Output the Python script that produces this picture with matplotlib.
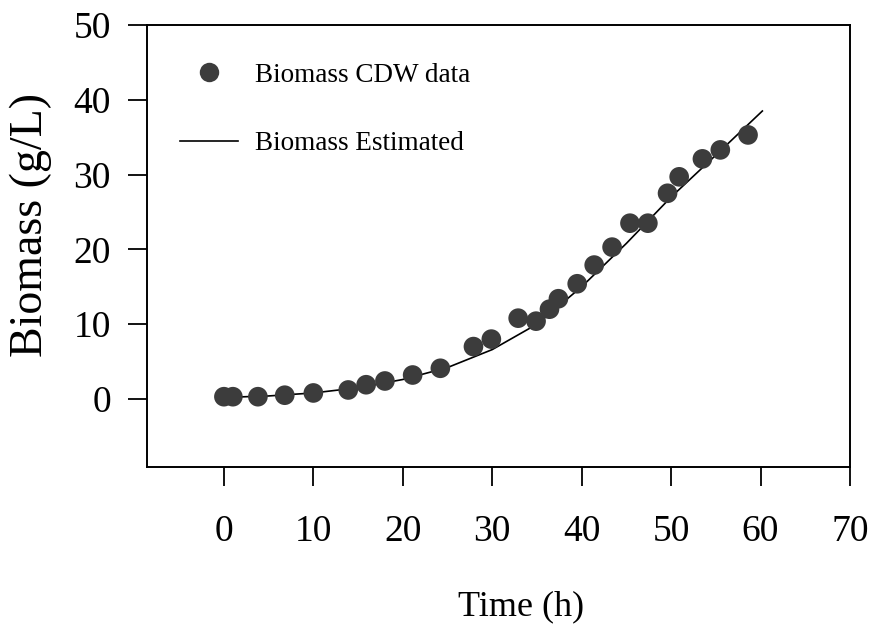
import matplotlib
matplotlib.use("Agg")
import matplotlib.pyplot as plt
from matplotlib.lines import Line2D

# measured biomass (cell dry weight)
time_data = [0.0, 1.0, 3.8, 6.8, 10.0, 13.9, 15.9, 18.0, 21.1, 24.2,
             27.9, 29.9, 32.9, 34.9, 36.4, 37.4, 39.5, 41.4, 43.4, 45.4,
             47.4, 49.6, 50.9, 53.5, 55.5, 58.6]
biomass_data = [0.3, 0.3, 0.3, 0.5, 0.8, 1.2, 1.9, 2.4, 3.2, 4.1,
                7.0, 8.0, 10.8, 10.4, 12.0, 13.4, 15.4, 17.9, 20.3, 23.5,
                23.5, 27.5, 29.7, 32.1, 33.3, 35.3]

# model estimate
time_est = [0, 5, 10, 15, 20, 25, 30, 35, 40, 45, 50, 55, 60.2]
biomass_est = [0.2, 0.4, 0.8, 1.5, 2.6, 4.2, 6.6, 10.0, 15.0, 20.8, 27.0, 32.6, 38.5]

x_ticks = [0, 10, 20, 30, 40, 50, 60, 70]
y_ticks = [0, 10, 20, 30, 40, 50]

plt.rcParams["font.family"] = ["Liberation Serif", "DejaVu Serif"]

fig = plt.figure(figsize=(8.71, 6.26), dpi=100)
ax = fig.add_axes([147 / 871, 1 - 467 / 626, 703 / 871, 442 / 626])

ax.plot(time_est, biomass_est, color="black", lw=1.2, zorder=2)
ax.scatter(time_data, biomass_data, s=200, color="#3c3c3c", edgecolors="none", zorder=3)

ax.set_xlim(-8.6, 70)
ax.set_ylim(-9.1, 50)
ax.set_xticks(x_ticks)
ax.set_yticks(y_ticks)
ax.tick_params(axis="x", direction="out", length=14, width=1.3, pad=20, labelsize=27)
ax.tick_params(axis="y", direction="out", length=14, width=1.3, pad=12, labelsize=27)
for sp in ax.spines.values():
    sp.set_linewidth(1.4)

ax.set_xlabel("Time (h)", fontsize=26)
ax.xaxis.set_label_coords((521 - 147) / 703, -0.278)
ax.set_ylabel("Biomass (g/L)", fontsize=33)
ax.yaxis.set_label_coords(-0.135, 0.547)

handles = [
    Line2D([], [], marker="o", ls="none", markersize=14, color="#3c3c3c", markeredgewidth=0),
    Line2D([], [], color="black", lw=1.2),
]
ax.legend(handles, ["Biomass CDW data", "Biomass Estimated"], loc="upper left",
          bbox_to_anchor=(0.047, 0.915), frameon=False, fontsize=19.5,
          handlelength=2.15, handletextpad=0.6, labelspacing=1.62,
          borderpad=0, borderaxespad=0)

fig.savefig("out.png", dpi=100)
